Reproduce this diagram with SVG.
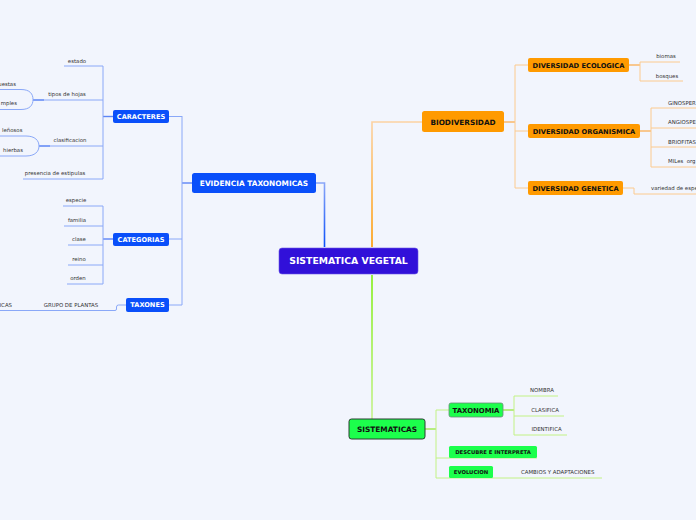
<svg xmlns="http://www.w3.org/2000/svg" width="696" height="520" viewBox="0 0 696 520">
<defs>
<linearGradient id="gBlue" gradientUnits="userSpaceOnUse" x1="0" y1="183" x2="0" y2="247"><stop offset="0" stop-color="#8aa6f8"/><stop offset="1" stop-color="#0a4ffa"/></linearGradient>
<linearGradient id="gOrange" gradientUnits="userSpaceOnUse" x1="0" y1="247" x2="0" y2="122"><stop offset="0" stop-color="#ff9900"/><stop offset="1" stop-color="#fcd2a2"/></linearGradient>
<linearGradient id="gGreen" gradientUnits="userSpaceOnUse" x1="0" y1="275" x2="0" y2="419"><stop offset="0" stop-color="#7fee10"/><stop offset="1" stop-color="#c6f28e"/></linearGradient>
</defs>
<style>
.lb{fill:none;stroke:#8aa8f8;stroke-width:1}
.lbs{fill:none;stroke:#5d85f5;stroke-width:1.4}
.lo{fill:none;stroke:#fcca8e;stroke-width:1}
.los{fill:none;stroke:#fbb45e;stroke-width:1.4}
.lg{fill:none;stroke:#c2f285;stroke-width:1}
.lgs{fill:none;stroke:#9ee84e;stroke-width:1.4}
.t{font-family:"DejaVu Sans",Verdana,sans-serif;font-size:5.4px;fill:#333}
.nt{font-family:"DejaVu Sans",Verdana,sans-serif;font-weight:bold;text-anchor:middle}
.blue{fill:#0a4ffa}
.orange{fill:#ff9a00}
.green{fill:#1cff4c}
.w{fill:#fff}
.k{fill:#111}
</style>
<rect width="696" height="520" fill="#f2f5fd"/>
<g id="connectors">
<path d="M316 183 H324.5 V247" fill="none" stroke="url(#gBlue)" stroke-width="1.6"/>
<path d="M372 247 V122 H422" fill="none" stroke="url(#gOrange)" stroke-width="1.6"/>
<path d="M372 275 V419" fill="none" stroke="url(#gGreen)" stroke-width="1.6"/>
<path class="lbs" d="M192 183 H182"/>
<path class="lb" d="M182 116 V305 M182 116.5 H169 M182 239 H169 M182 305 H169"/>
<path class="lbs" d="M113 116.5 H103"/>
<path class="lb" d="M103 66 V179 M103 66 H64 M103 100 H44 M103 146 H50 M103 179 H23"/>
<path class="lbs" d="M44 100 H33 M50 146 H39"/>
<path class="lb" d="M0 89.5 H21 C30 89.5 33 94 33 99.5 C33 105 30 109.5 21 109.5 H0"/>
<path class="lb" d="M0 136 H26 C35 136 39 140.5 39 146 C39 151.5 35 156 26 156 H0"/>
<path class="lbs" d="M113 239 H103"/>
<path class="lb" d="M103 206 V284 M103 206 H63 M103 226 H64 M103 245 H68 M103 265 H68 M103 284 H67"/>
<path class="lb" d="M126 305 H118.5 Q116.5 305 116.5 307 V309 Q116.5 310.5 115 310.5 H0"/>
<path class="los" d="M504 122 H515"/>
<path class="lo" d="M515 65 V188 M515 65 H528 M515 131 H528 M515 188 H528"/>
<path class="los" d="M629 65 H640"/>
<path class="lo" d="M640 62 V81 M640 62 H680 M640 81 H683"/>
<path class="los" d="M640 131 H651"/>
<path class="lo" d="M651 108 V167 M651 108 H696 M651 128 H696 M651 147 H696 M651 167 H696"/>
<path class="lo" d="M623 188 H634 V194 H696"/>
<path class="lgs" d="M425 429 H436"/>
<path class="lg" d="M436 410 V478 M436 410 H449 M436 458 H537 M436 478 H602"/>
<path class="lgs" d="M503 410 H514"/>
<path class="lg" d="M514 396 V435 M514 396 H558 M514 416 H564 M514 435 H567"/>
</g>
<g id="central"><rect x="279" y="248" width="139" height="26" rx="3" fill="#3110d9" stroke="#6a55e6" stroke-width="0.6"/><text class="nt w" x="348.5" y="264.3" font-size="9.3">SISTEMATICA VEGETAL</text></g>
<g id="evidencia"><rect class="blue" x="192" y="173" width="124" height="20" rx="2.5"/><text class="nt w" x="254" y="185.7" font-size="7.4">EVIDENCIA TAXONOMICAS</text></g>
<g id="caracteres"><rect class="blue" x="113" y="110" width="56" height="13" rx="2"/><text class="nt w" x="141" y="118.8" font-size="6.6">CARACTERES</text></g>
<g id="categorias"><rect class="blue" x="113" y="233" width="56" height="13" rx="2"/><text class="nt w" x="141" y="241.8" font-size="6.6">CATEGORIAS</text></g>
<g id="taxones"><rect class="blue" x="126" y="298" width="43" height="14" rx="2"/><text class="nt w" x="147.5" y="307.3" font-size="6.6">TAXONES</text></g>
<g id="estado"><text class="t" x="77" y="63" text-anchor="middle">estado</text></g>
<g id="tipos"><text class="t" x="67" y="95.5" text-anchor="middle">tipos de hojas</text></g>
<g id="compuestas"><text class="t" x="16" y="86" text-anchor="end">uestas</text></g>
<g id="simples"><text class="t" x="17" y="105" text-anchor="end">mples</text></g>
<g id="clasificacion"><text class="t" x="70" y="142" text-anchor="middle">clasificacion</text></g>
<g id="lenosos"><text class="t" x="2" y="132">leñosos</text></g>
<g id="hierbas"><text class="t" x="3" y="152">hierbas</text></g>
<g id="estipulas"><text class="t" x="55" y="175" text-anchor="middle">presencia de estipulas</text></g>
<g id="especie"><text class="t" x="76" y="202" text-anchor="middle">especie</text></g>
<g id="familia"><text class="t" x="77" y="222" text-anchor="middle">familia</text></g>
<g id="clase"><text class="t" x="79" y="241" text-anchor="middle">clase</text></g>
<g id="reino"><text class="t" x="79" y="261" text-anchor="middle">reino</text></g>
<g id="orden"><text class="t" x="78" y="280" text-anchor="middle">orden</text></g>
<g id="grupo"><text class="t" x="71" y="307" text-anchor="middle">GRUPO DE PLANTAS</text></g>
<g id="icas"><text class="t" x="12" y="307" text-anchor="end">ICAS</text></g>
<g id="biodiversidad"><rect class="orange" x="422" y="111" width="82" height="21" rx="2.5"/><text class="nt k" x="463" y="124.6" font-size="7.3">BIODIVERSIDAD</text></g>
<g id="ecologica"><rect class="orange" x="528" y="58" width="101" height="14" rx="2"/><text class="nt k" x="578.5" y="67.6" font-size="6.7">DIVERSIDAD ECOLOGICA</text></g>
<g id="organismica"><rect class="orange" x="528" y="124" width="112" height="14" rx="2"/><text class="nt k" x="584" y="133.6" font-size="6.7">DIVERSIDAD ORGANISMICA</text></g>
<g id="genetica"><rect class="orange" x="528" y="181" width="95" height="14" rx="2"/><text class="nt k" x="575.5" y="190.6" font-size="6.7">DIVERSIDAD GENETICA</text></g>
<g id="biomas"><text class="t" x="666" y="58" text-anchor="middle">biomas</text></g>
<g id="bosques"><text class="t" x="667" y="78" text-anchor="middle">bosques</text></g>
<g id="ginosper"><text class="t" x="668" y="105">GINOSPER</text></g>
<g id="angiospe"><text class="t" x="668" y="124">ANGIOSPE</text></g>
<g id="briofitas"><text class="t" x="668" y="144">BRIOFITAS</text></g>
<g id="miles"><text class="t" x="668" y="163" xml:space="preserve">MILes  org</text></g>
<g id="variedad"><text class="t" x="651" y="190">variedad de espe</text></g>
<g id="sistematicas"><rect class="green" x="349" y="419" width="76" height="20" rx="2.5" stroke="#2a3a30" stroke-width="1"/><text class="nt k" x="387" y="431.7" font-size="7.4">SISTEMATICAS</text></g>
<g id="taxonomia"><rect class="green" x="449" y="403" width="54" height="14" rx="2" stroke="#6c8a78" stroke-width="0.8"/><text class="nt k" x="476" y="412.6" font-size="6.9">TAXONOMIA</text></g>
<g id="descubre"><rect class="green" x="449" y="446" width="88" height="12" rx="1.5"/><text class="nt k" x="493" y="454" font-size="5.3">DESCUBRE E INTERPRETA</text></g>
<g id="evolucion"><rect class="green" x="449" y="466" width="44" height="12" rx="1.5"/><text class="nt k" x="471" y="474" font-size="5.3">EVOLUCION</text></g>
<g id="nombra"><text class="t" x="542" y="392" text-anchor="middle">NOMBRA</text></g>
<g id="clasifica"><text class="t" x="545" y="412" text-anchor="middle">CLASIFICA</text></g>
<g id="identifica"><text class="t" x="546.5" y="431" text-anchor="middle">IDENTIFICA</text></g>
<g id="cambios"><text class="t" x="521" y="474">CAMBIOS Y ADAPTACIONES</text></g>
</svg>
